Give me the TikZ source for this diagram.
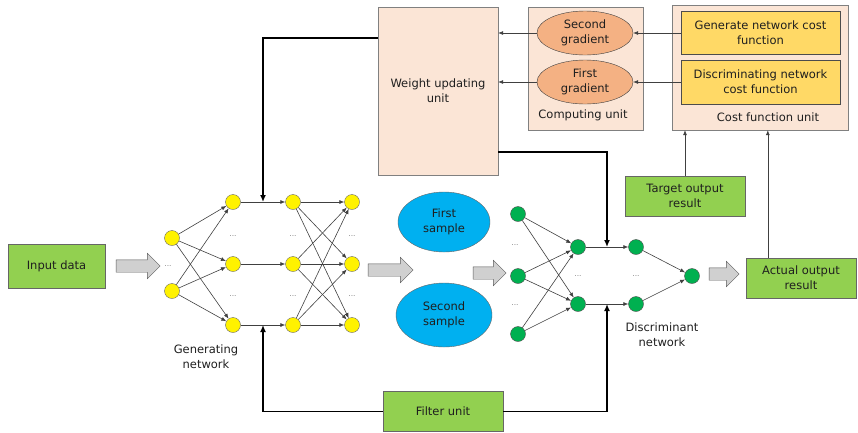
\documentclass[tikz,border=0pt]{standalone}
\usepackage{fontspec}
\setmainfont{DejaVu Sans}
\usetikzlibrary{arrows.meta,shapes.geometric,shapes.arrows,calc}
\definecolor{txtgray}{HTML}{1F1F1F}
\definecolor{boxgreen}{HTML}{92D050}
\definecolor{peach}{HTML}{FBE5D6}
\definecolor{gradorange}{HTML}{F4B183}
\definecolor{costyellow}{HTML}{FFD966}
\definecolor{sampleblue}{HTML}{00B0F0}
\definecolor{nodegreen}{HTML}{00B050}
\definecolor{fatgray}{HTML}{D0D0D0}
\begin{document}
\begin{tikzpicture}
  [x=1pt,y=-1pt,every node/.style={text=txtgray,font=\fontsize{11.5}{15}\selectfont,align=center},
   greenbox/.style={draw=black!60,fill=boxgreen,minimum width=120,minimum height=40,inner sep=0},
   unitbox/.style={draw=black!50,fill=peach,inner sep=0},
   costbox/.style={draw=black!70,fill=costyellow,minimum width=159,minimum height=43,inner sep=0},
   grad/.style={ellipse,draw=black!75,fill=gradorange,minimum width=96,minimum height=44,inner sep=0},
   sample/.style={ellipse,draw=black!60,fill=sampleblue,inner sep=0},
   gnode/.style={circle,draw=black!60,fill=yellow,minimum size=15,inner sep=0},
   dnode/.style={circle,draw=black!70,fill=nodegreen,minimum size=15,inner sep=0},
   dots/.style={text=black!50,font=\fontsize{7.5}{8}\selectfont,inner sep=0},
   fatarrow/.style={single arrow,draw=black!65,fill=fatgray,inner xsep=0,inner ysep=6,
     single arrow head extend=6.5,single arrow head indent=0},
   edge/.style={draw=black!75,line width=0.6pt,-{Latex[length=5pt,width=4pt]}},
   feed/.style={draw=black,line width=1.6pt,-{Latex[length=7pt,width=6pt]}}]
\useasboundingbox (0,0) rectangle (858,432);

  % boxes
  \node[greenbox,minimum width=97,minimum height=44] (input) at (56.5,266) {Input data};
  \node[unitbox,minimum width=120,minimum height=168] (wu) at (438,91) {Weight updating\\unit};
  \node[unitbox,minimum width=115,minimum height=123] (cu) at (585.5,68.5) {};
  \node (culbl) at (583,115) {Computing unit};
  \node[grad] (sgrad) at (585,33) {Second\\gradient};
  \node[grad] (fgrad) at (585,82) {First\\gradient};
  \node[unitbox,minimum width=176,minimum height=125] (cfu) at (760,67.5) {};
  \node[costbox] (gcost) at (760.5,33) {Generate network cost\\function};
  \node[costbox,minimum height=44] (dcost) at (760.5,82) {Discriminating network\\cost function};
  \node (cfulbl) at (768,117) {Cost function unit};
  \node[greenbox] (target) at (685,196) {Target output\\result};
  \node[greenbox,minimum width=110] (actual) at (801,278) {Actual output\\result};
  \node[greenbox] (filter) at (443,411.5) {Filter unit};

  % generating network
  \node[gnode] (g11) at (172,238) {};
  \node[gnode] (g12) at (172,291) {};
  \node[dots] (gd0) at (168,266) {...};
  \foreach \x/\n in {233/2,293/3,352/4} {
    \node[gnode] (g\n1) at (\x,202) {};
    \node[gnode] (g\n2) at (\x,264) {};
    \node[gnode] (g\n3) at (\x,325) {};
    \node[dots] (gd\n a) at (\x,236) {...};
    \node[dots] (gd\n b) at (\x,296) {...};
  }
  \foreach \from in {g11,g12}
    \foreach \to in {g21,g22,g23}
      \draw[edge] (\from) -- (\to);
  \foreach \i in {1,2,3}
    \draw[edge] (g2\i) -- (g3\i);
  \foreach \from in {g31,g32,g33}
    \foreach \to in {g41,g42,g43}
      \draw[edge] (\from) -- (\to);
  \node (genlbl) at (206,357) {Generating\\network};

  % samples
  \node[sample,minimum width=92,minimum height=60] (s1) at (444,222) {First\\sample};
  \node[sample,minimum width=96,minimum height=64] (s2) at (444,315) {Second\\sample};

  % discriminant network
  \node[dnode] (d11) at (518,214) {};
  \node[dnode] (d12) at (518,276) {};
  \node[dnode] (d13) at (518,334) {};
  \node[dots] (dd1a) at (515,245) {...};
  \node[dots] (dd1b) at (515,305) {...};
  \node[dnode] (d21) at (578,247) {};
  \node[dnode] (d22) at (578,304) {};
  \node[dnode] (d31) at (636,247) {};
  \node[dnode] (d32) at (636,304) {};
  \node[dots] (dd2) at (578,276) {...};
  \node[dots] (dd3) at (636,276) {...};
  \node[dnode] (dout) at (692,276) {};
  \foreach \from in {d11,d12,d13}
    \foreach \to in {d21,d22}
      \draw[edge] (\from) -- (\to);
  \foreach \i in {1,2}
    \draw[edge] (d2\i) -- (d3\i);
  \foreach \from in {d31,d32}
    \draw[edge] (\from) -- (dout);
  \node (dislbl) at (662,335) {Discriminant\\network};

  % fat arrows
  \node[fatarrow,minimum height=44] (fa1) at (135,266) {};
  \node[fatarrow,minimum height=45] (fa2) at (387.5,270) {};
  \node[fatarrow,minimum height=33] (fa3) at (486.5,273) {};
  \node[fatarrow,minimum height=30] (fa4) at (721,274) {};

  % thin connectors
  \draw[edge] (gcost.west) -- (sgrad.east);
  \draw[edge] (dcost.west) -- (fgrad.east);
  \draw[edge] (sgrad.west) -- (sgrad.west -| wu.east);
  \draw[edge] (fgrad.west) -- (fgrad.west -| wu.east);
  \draw[edge] (target.north) -- (target.north |- cfu.south);
  \draw[edge] ([xshift=22]actual.north west) -- ([xshift=22]actual.north west |- cfu.south);

  % feedback lines
  \coordinate (gmid1) at ($(g21)!0.5!(g31)$);
  \coordinate (gmid3) at ($(g23)!0.5!(g33)$);
  \coordinate (dmid1) at ($(d21)!0.5!(d31)$);
  \coordinate (dmid2) at ($(d22)!0.5!(d32)$);
  \draw[feed] (wu.west |- 0,38) -| (gmid1);
  \draw[feed] (wu.east |- 0,152) -| (dmid1);
  \draw[feed] (filter.west) -| (gmid3);
  \draw[feed] (filter.east) -| (dmid2);
\end{tikzpicture}
\end{document}
